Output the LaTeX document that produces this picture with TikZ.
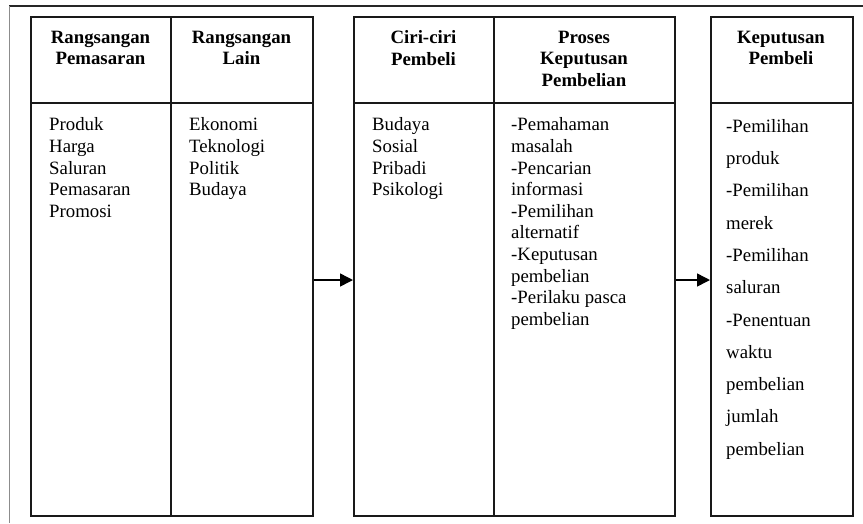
\documentclass[tikz,border=0pt]{standalone}
\usepackage{fontspec}
\setmainfont{Liberation Serif}
\usetikzlibrary{arrows.meta}
\begin{document}
\begin{tikzpicture}[x=1pt,y=-1pt,
  box/.style={draw=black!90, line width=1.5pt, rectangle, inner sep=0pt, anchor=north west},
  sepline/.style={draw=black!90, line width=1.5pt},
  head/.style={font=\bfseries\fontsize{18.8}{21.6}\selectfont, align=center, anchor=north, inner sep=0pt},
  body/.style={font=\fontsize{18.8}{21.6}\selectfont, align=left, anchor=north west, inner sep=0pt},
  wide/.style={font=\fontsize{18.8}{32.3}\selectfont, align=left, anchor=north west, inner sep=0pt},
  arr/.style={line width=1.5pt, -{Triangle[length=13pt,width=13pt]}}]
\useasboundingbox (0,0) rectangle (863,523);
\fill[white] (0,0) rectangle (863,523);
% page edges
\draw[line width=1.2pt, black!85] (9,6) -- (863,6);
\draw[line width=0.8pt, black!45] (9,6) -- (9,523);
% boxes
\node[box, minimum width=282pt, minimum height=499pt] (b1) at (30,16) {};
\node[box, minimum width=321pt, minimum height=499pt] (b2) at (353,16) {};
\node[box, minimum width=142pt, minimum height=499pt] (b3) at (710,16) {};
% dividers
\draw[sepline] ([xshift=141pt]b1.north west) -- ([xshift=141pt]b1.south west);
\draw[sepline] ([xshift=141pt]b2.north west) -- ([xshift=141pt]b2.south west);
\draw[sepline] ([yshift=-87pt]b1.north west) -- ([yshift=-87pt]b1.north east);
\draw[sepline] ([yshift=-87pt]b2.north west) -- ([yshift=-87pt]b2.north east);
\draw[sepline] ([yshift=-87pt]b3.north west) -- ([yshift=-87pt]b3.north east);
% headings
\node[head] (h1) at (100.5,30.6) {Rangsangan\\Pemasaran};
\node[head] (h2) at (241.5,30.6) {Rangsangan\\Lain};
\node[head] (h3) at (423.5,30.6) {Ciri-ciri\\Pembeli};
\node[head] (h4) at (584,30.6) {Proses\\Keputusan\\Pembelian};
\node[head] (h5) at (781,30.6) {Keputusan\\Pembeli};
% bodies
\node[body] (t1) at (49,117.7) {Produk\\Harga\\Saluran\\Pemasaran\\Promosi};
\node[body] (t2) at (189,117.7) {Ekonomi\\Teknologi\\Politik\\Budaya};
\node[body] (t3) at (372,117.7) {Budaya\\Sosial\\Pribadi\\Psikologi};
\node[body] (t4) at (511,117.7) {-Pemahaman\\masalah\\-Pencarian\\informasi\\-Pemilihan\\alternatif\\-Keputusan\\pembelian\\-Perilaku pasca\\pembelian};
\node[wide] (t5) at (726,119) {-Pemilihan\\produk\\-Pemilihan\\merek\\-Pemilihan\\saluran\\-Penentuan\\waktu\\pembelian\\jumlah\\pembelian};
% arrows
\coordinate (ay) at (0,280);
\draw[arr] (b1.east |- ay) -- (b2.west |- ay);
\draw[arr] (b2.east |- ay) -- (b3.west |- ay);
\end{tikzpicture}
\end{document}
